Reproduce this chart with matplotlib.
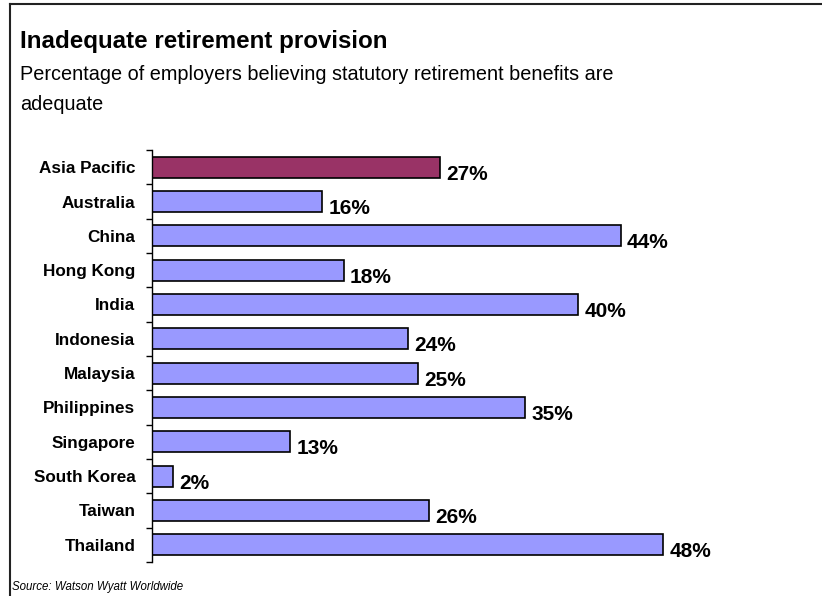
import numpy as np
import matplotlib
matplotlib.use('Agg')
import matplotlib.pyplot as plt
from matplotlib.lines import Line2D

plt.rcParams['font.family'] = ['Liberation Sans', 'DejaVu Sans']

countries = ['Asia Pacific', 'Australia', 'China', 'Hong Kong', 'India', 'Indonesia',
             'Malaysia', 'Philippines', 'Singapore', 'South Korea', 'Taiwan', 'Thailand']
pct = [27, 16, 44, 18, 40, 24, 25, 35, 13, 2, 26, 48]

fig = plt.figure(figsize=(8.22, 5.96), dpi=100)

# frame round the figure (top and left edges only)
fig.add_artist(Line2D([10/822, 10/822], [0, 1 - 4/596], transform=fig.transFigure, color='#222222', lw=1.5))
fig.add_artist(Line2D([10/822, 1], [1 - 4/596, 1 - 4/596], transform=fig.transFigure, color='#222222', lw=1.5))

fig.text(20/822, 1 - 48/596, 'Inadequate retirement provision', fontsize=17.4, fontweight='bold',
         ha='left', va='baseline')
fig.text(20/822, 1 - 80/596, 'Percentage of employers believing statutory retirement benefits are',
         fontsize=14.3, ha='left', va='baseline')
fig.text(20/822, 1 - 110/596, 'adequate', fontsize=14.3, ha='left', va='baseline')
fig.text(12/822, 1 - 590/596, 'Source: Watson Wyatt Worldwide', fontsize=8.3, style='italic',
         ha='left', va='baseline')

ax = fig.add_axes([152/822, 34/596, 639/822, 412/596])
y = np.arange(len(countries))
colors = ['#993366'] + ['#9999FF'] * (len(countries) - 1)
ax.barh(y, pct, height=0.62, color=colors, edgecolor='black', linewidth=1.2)

for i, v in enumerate(pct):
    ax.text(v + 0.6, i + 0.2, '%d%%' % v, fontsize=15, fontweight='bold', ha='left', va='center')

ax.set_xlim(0, 60)
ax.set_ylim(len(countries) - 0.5, -0.5)
ax.set_yticks(y)
ax.set_yticklabels(countries, fontsize=12.3, fontweight='bold')
ax.set_yticks(np.arange(-0.5, len(countries), 1), minor=True)
ax.tick_params(axis='y', which='major', length=0, pad=12)
ax.tick_params(axis='y', which='minor', length=4, direction='out', width=1)
ax.set_xticks([])
for s in ['top', 'right', 'bottom']:
    ax.spines[s].set_visible(False)
ax.spines['left'].set_linewidth(1)

fig.savefig('out.png', dpi=100)
